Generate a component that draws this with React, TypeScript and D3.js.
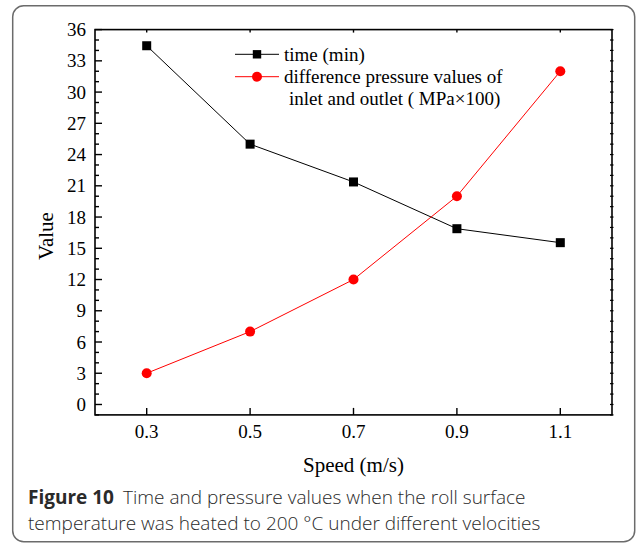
import React from "react";
import * as d3 from "d3";

const speeds = [0.3, 0.5, 0.7, 0.9, 1.1];
const timeMin = [34.45, 25.0, 21.37, 16.88, 15.54];
const pressure = [3.0, 7.0, 12.0, 20.0, 32.0];
const yTicks = [0, 3, 6, 9, 12, 15, 18, 21, 24, 27, 30, 33, 36];
const xTickLabels = ["0.3", "0.5", "0.7", "0.9", "1.1"];

const W = 637;
const H = 543;
const left = 95, right = 612, top = 29.6, bottom = 414.9;

export default function App() {
  const x = d3.scaleLinear().domain([0.2, 1.2]).range([left, right]);
  const y = d3.scaleLinear().domain([-1, 36]).range([bottom, top]);
  const line = d3
    .line<[number, number]>()
    .x((d) => x(d[0]))
    .y((d) => y(d[1]));
  const timePts: [number, number][] = speeds.map((s, i) => [s, timeMin[i]]);
  const presPts: [number, number][] = speeds.map((s, i) => [s, pressure[i]]);
  const minor = d3.range(-1, 37, 1);
  const serif = "'Liberation Serif', 'Times New Roman', serif";
  const sans = "'Open Sans', 'Noto Sans', sans-serif";

  return (
    <svg
      width={W}
      height={H}
      style={{ position: "absolute", left: 0, top: 0, background: "#fff" }}
    >
      <rect x={12.7} y={5.7} width={622} height={536} rx={11} ry={11} fill="none" stroke="#6b6b6b" strokeWidth={1.5} />
      {/* plot frame */}
      <rect x={left} y={top} width={right - left} height={bottom - top} fill="none" stroke="#000" strokeWidth={1.6} />
      {/* left axis ticks */}
      {minor.map((v) => {
        const major = v % 3 === 0 && v >= 0;
        return (
          <line key={"ly" + v} x1={left} x2={left + (major ? 7 : 4)} y1={y(v)} y2={y(v)} stroke="#000" strokeWidth={1.4} />
        );
      })}
      {/* right axis ticks */}
      {minor.map((v) => (
        <line key={"ry" + v} x1={right - 2} x2={right + 1.5} y1={y(v)} y2={y(v)} stroke="#000" strokeWidth={1.2} />
      ))}
      {/* bottom & top ticks */}
      {speeds.map((s) => (
        <g key={"xt" + s}>
          <line x1={x(s)} x2={x(s)} y1={bottom} y2={bottom - 7} stroke="#000" strokeWidth={1.4} />
          <line x1={x(s)} x2={x(s)} y1={top} y2={top + 3} stroke="#000" strokeWidth={1.4} />
        </g>
      ))}
      {yTicks.map((v) => (
        <text key={"yl" + v} x={86} y={y(v)} dy="0.35em" textAnchor="end" fontFamily={serif} fontSize={19} fill="#000">
          {v}
        </text>
      ))}
      {speeds.map((s, i) => (
        <text key={"xl" + s} x={x(s)} y={438} textAnchor="middle" fontFamily={serif} fontSize={19} fill="#000">
          {xTickLabels[i]}
        </text>
      ))}
      <text x={(left + right) / 2} y={472} textAnchor="middle" fontFamily={serif} fontSize={21} fill="#000">
        Speed (m/s)
      </text>
      <text transform={`translate(53,236) rotate(-90)`} textAnchor="middle" fontFamily={serif} fontSize={21} fill="#000">
        Value
      </text>
      {/* series */}
      <path d={line(timePts) || ""} fill="none" stroke="#000" strokeWidth={1} />
      <path d={line(presPts) || ""} fill="none" stroke="#ff0000" strokeWidth={1} />
      {timePts.map((p, i) => (
        <rect key={"sq" + i} x={x(p[0]) - 4.5} y={y(p[1]) - 4.5} width={9} height={9} fill="#000" />
      ))}
      {presPts.map((p, i) => (
        <circle key={"ci" + i} cx={x(p[0])} cy={y(p[1])} r={5} fill="#ff0000" />
      ))}
      {/* legend */}
      <line x1={235} x2={279} y1={54.3} y2={54.3} stroke="#000" strokeWidth={1} />
      <rect x={257 - 4.2} y={54.3 - 4.2} width={8.4} height={8.4} fill="#000" />
      <line x1={235} x2={279} y1={76.7} y2={76.7} stroke="#ff0000" strokeWidth={1} />
      <circle cx={257} cy={76.7} r={5} fill="#ff0000" />
      <text x={284} y={61} fontFamily={serif} fontSize={19} fill="#000">time (min)</text>
      <text x={284} y={83} fontFamily={serif} fontSize={19} fill="#000">difference pressure values of</text>
      <text x={289} y={105} fontFamily={serif} fontSize={19} fill="#000">inlet and outlet ( MPa×100)</text>
      {/* caption */}
      <text x={28} y={504} fontFamily={sans} fontSize={19} fill="#2a2a2a">
        <tspan fontWeight="bold">Figure 10</tspan>
        <tspan dx={9} fontWeight={300}>Time and pressure values when the roll surface</tspan>
      </text>
      <text x={28} y={530} fontFamily={sans} fontSize={19} fontWeight={300} fill="#2a2a2a">
        temperature was heated to 200 °C under different velocities
      </text>
    </svg>
  );
}
